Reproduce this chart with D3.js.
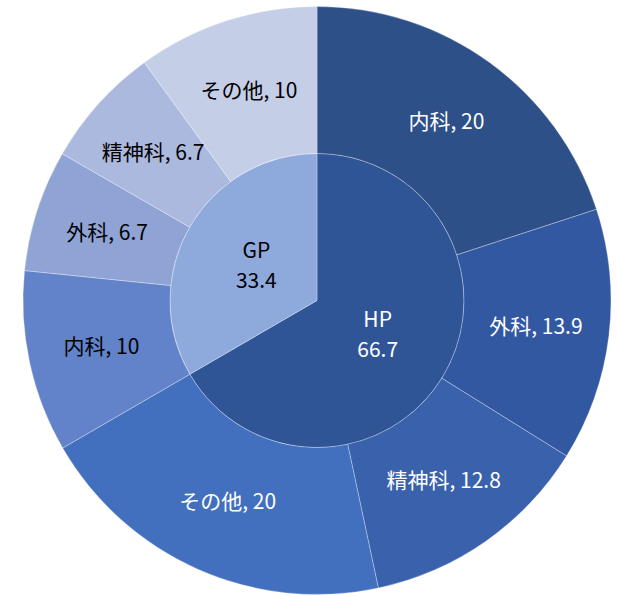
<!DOCTYPE html>
<html><head><meta charset="utf-8">
<script src="https://cdn.jsdelivr.net/npm/d3@7"></script>
<style>body{margin:0;background:#fff}svg{display:block}</style>
</head><body>
<svg id="c" width="618" height="596"></svg>
<script>
const groups = ["HP", "GP"];
const groupValues = [66.7, 33.4];
const groupColors = ["#2F5597", "#8EAADC"];
const groupTextColors = ["#ffffff", "#000000"];
const subCategories = ["内科", "外科", "精神科", "その他"];
const hpValues = [20, 13.9, 12.8, 20];
const gpValues = [10, 6.7, 6.7, 10];
const hpColors = ["#2E5089", "#3358A2", "#3A62AC", "#4270BE"];
const gpColors = ["#6283C9", "#8FA3D5", "#ABB9DF", "#C5CEE7"];
const hpTextColors = ["#ffffff", "#ffffff", "#ffffff", "#ffffff"];
const gpTextColors = ["#000000", "#000000", "#000000", "#000000"];

const cx = 317, cy = 300.5, rIn = 147, rOut = 294;
const svg = d3.select("#c");
const g = svg.append("g").attr("transform", `translate(${cx},${cy})`);
const font = "'Noto Sans CJK JP', 'Noto Sans', sans-serif";
const fs = 21;

const innerData = d3.pie().sort(null)(groupValues);
const outerVals = hpValues.concat(gpValues);
const outerData = d3.pie().sort(null)(outerVals);

const arcIn = d3.arc().innerRadius(0).outerRadius(rIn);
const arcOut = d3.arc().innerRadius(rIn).outerRadius(rOut);
const arcLabIn = d3.arc().innerRadius(70).outerRadius(70);

g.selectAll("path.in").data(innerData).join("path")
  .attr("d", arcIn).attr("fill", (d,i)=>groupColors[i])
  .attr("stroke", "rgba(255,255,255,0.6)").attr("stroke-width", 0.5);

const outerColors = hpColors.concat(gpColors);
const outerText = hpTextColors.concat(gpTextColors);
const outerLabels = subCategories.concat(subCategories);
g.selectAll("path.out").data(outerData).join("path")
  .attr("d", arcOut).attr("fill", (d,i)=>outerColors[i])
  .attr("stroke", "rgba(255,255,255,0.6)").attr("stroke-width", 0.5);

g.selectAll("text.out").data(outerData).join("text")
  .attr("transform", d => `translate(${arcOut.centroid(d)})`)
  .attr("text-anchor", "middle").attr("dy", "0.35em")
  .attr("font-family", font).attr("font-size", fs)
  .attr("fill", (d,i)=>outerText[i])
  .text((d,i)=> `${outerLabels[i]}, ${outerVals[i]}`);

innerData.forEach((d,i)=>{
  const [x,y] = arcLabIn.centroid(d);
  const t = g.append("text").attr("text-anchor","middle")
    .attr("font-family", font).attr("font-size", fs)
    .attr("fill", groupTextColors[i]);
  t.append("tspan").attr("x", x).attr("y", y - 15 + 7).text(groups[i]);
  t.append("tspan").attr("x", x).attr("y", y + 15 + 7).text(groupValues[i]);
});
</script>
</body></html>
